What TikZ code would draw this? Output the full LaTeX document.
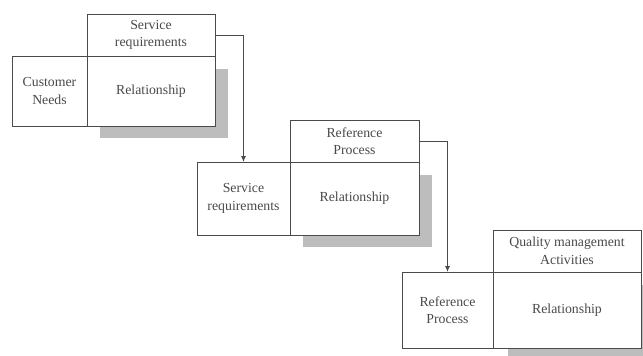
\documentclass[tikz,border=0pt]{standalone}
\usepackage{fontspec}
\setmainfont{Liberation Serif}
\usetikzlibrary{positioning,arrows.meta,backgrounds}
\definecolor{linegray}{HTML}{4A4A4A}
\definecolor{shadegray}{HTML}{BDBDBD}
\begin{document}
\begin{tikzpicture}
      [ x=1pt, y=-1pt,
        every node/.style={font=\fontsize{13.8}{17.5}\selectfont, text=linegray},
        cell/.style={draw=linegray, fill=white, line width=0.9pt, align=center,
                     inner sep=0pt, outer sep=0pt},
        shade/.style={fill=shadegray},
        link/.style={draw=linegray, line width=0.9pt,
                     -{Latex[length=6pt,width=5pt]}}
      ]
      \useasboundingbox (0,0) rectangle (643,356);

      % first matrix
      \node[cell, minimum width=75pt,  minimum height=70pt] (needs) at (49.5,91) {Customer\\Needs};
      \node[cell, minimum width=128pt, minimum height=70pt] (rel_1) [right=0pt of needs] {Relationship};
      \node[cell, minimum width=128pt, minimum height=42pt] (req_1) [above=0pt of rel_1] {Service\\requirements};

      % second matrix
      \node[cell, minimum width=93pt,  minimum height=73pt] (req_2) at (243.5,198.5) {Service\\requirements};
      \node[cell, minimum width=129pt, minimum height=73pt] (rel_2) [right=0pt of req_2] {Relationship};
      \node[cell, minimum width=129pt, minimum height=42pt] (proc_2) [above=0pt of rel_2] {Reference\\Process};

      % third matrix
      \node[cell, minimum width=91pt,  minimum height=76pt] (proc_3) at (447.5,310) {Reference\\Process};
      \node[cell, minimum width=148pt, minimum height=76pt] (rel_3) [right=0pt of proc_3] {Relationship};
      \node[cell, minimum width=148pt, minimum height=42pt] (qma_3) [above=0pt of rel_3] {Quality management\\Activities};

      \begin{scope}[on background layer]
        \fill[shade] ([shift={(13,13)}]rel_1.north west) rectangle ([shift={(13,12)}]rel_1.south east);
        \fill[shade] ([shift={(13,13)}]rel_2.north west) rectangle ([shift={(13,12)}]rel_2.south east);
        \fill[shade] ([shift={(15,13)}]rel_3.north west) rectangle ([shift={(15,12)}]rel_3.south east);
      \end{scope}

      \path[link] (req_1.east) -| (req_2.north);
      \path[link] (proc_2.east) -| (proc_3.north);
\end{tikzpicture}
\end{document}
